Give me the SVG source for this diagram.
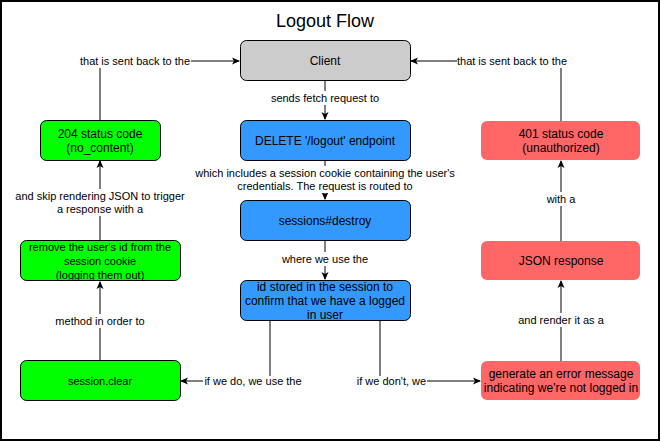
<svg xmlns="http://www.w3.org/2000/svg" width="661" height="442" viewBox="0 0 661 442">
<style>
text{font-family:"Liberation Sans",Arial,Helvetica,sans-serif;fill:#000;text-anchor:middle}
.n{font-size:12px}
.s{font-size:11px}
.t{font-size:18px}
.e{fill:none;stroke:#000;stroke-width:1}
.lb{fill:#fff}
.gray{fill:#CCCCCC;stroke:#000}
.blue{fill:#3399FF;stroke:#000}
.green{fill:#00FF00;stroke:#000}
.red{fill:#FF6666;stroke:none}
</style>
<defs>
<marker id="arr" viewBox="0 0 8 8" markerWidth="8" markerHeight="8" refX="7" refY="4" orient="auto" markerUnits="userSpaceOnUse">
<path d="M0,0.5 L8,4 L0,7.5 L2,4 Z" fill="#000"/>
</marker>
</defs>
<rect x="1" y="1" width="658" height="439" fill="#fff" stroke="#000" stroke-width="2"/>
<text class="t" x="325" y="27">Logout Flow</text>

<g id="connectors">
<path class="e" d="M100,121 V61 H239" marker-end="url(#arr)"/>
<rect class="lb" x="79" y="54" width="112" height="14"/>
<text class="s" x="135" y="65">that is sent back to the</text>

<path class="e" d="M561,121 V61 H411" marker-end="url(#arr)"/>
<rect class="lb" x="457" y="54" width="111" height="14"/>
<text class="s" x="512" y="65">that is sent back to the</text>

<path class="e" d="M325,80 V119" marker-end="url(#arr)"/>
<rect class="lb" x="272" y="91" width="106" height="14"/>
<text class="s" x="325" y="102">sends fetch request to</text>

<path class="e" d="M325,160 V199" marker-end="url(#arr)"/>
<rect class="lb" x="193" y="166" width="262" height="27"/>
<text class="s" x="325" y="177">which includes a session cookie containing the user's</text>
<text class="s" x="325" y="190">credentials. The request is routed to</text>

<path class="e" d="M325,240 V279" marker-end="url(#arr)"/>
<rect class="lb" x="283" y="252" width="84" height="14"/>
<text class="s" x="325" y="263">where we use the</text>

<path class="e" d="M270,320 V381 H181" marker-end="url(#arr)"/>
<rect class="lb" x="203" y="376" width="99" height="14"/>
<text class="s" x="253" y="385">if we do, we use the</text>

<path class="e" d="M380,320 V381 H480" marker-end="url(#arr)"/>
<rect class="lb" x="356" y="376" width="71" height="14"/>
<text class="s" x="391.5" y="385">if we don't, we</text>

<path class="e" d="M100,361 V282" marker-end="url(#arr)"/>
<rect class="lb" x="55" y="314" width="90" height="14"/>
<text class="s" x="100" y="325">method in order to</text>

<path class="e" d="M100,241 V161" marker-end="url(#arr)"/>
<rect class="lb" x="15" y="189" width="170" height="27"/>
<text class="s" x="100" y="200">and skip rendering JSON to trigger</text>
<text class="s" x="100" y="213">a response with a</text>

<path class="e" d="M561,361 V281" marker-end="url(#arr)"/>
<rect class="lb" x="517" y="313" width="88" height="14"/>
<text class="s" x="561" y="324">and render it as a</text>

<path class="e" d="M561,241 V161" marker-end="url(#arr)"/>
<rect class="lb" x="544" y="192" width="34" height="14"/>
<text class="s" x="561" y="203">with a</text>
</g>

<g id="client">
<rect class="gray" x="240.5" y="40.5" width="170" height="40" rx="6"/>
<text class="n" x="325" y="65">Client</text>
</g>
<g id="delete">
<rect class="blue" x="240.5" y="120.5" width="170" height="40" rx="6"/>
<text class="n" x="325" y="145">DELETE '/logout' endpoint</text>
</g>
<g id="sessions">
<rect class="blue" x="240.5" y="200.5" width="170" height="40" rx="6"/>
<text class="n" x="325" y="225">sessions#destroy</text>
</g>
<g id="idstored">
<rect class="blue" x="240.5" y="280.5" width="170" height="40" rx="6"/>
<text class="n" x="325" y="291">id stored in the session to</text>
<text class="n" x="325" y="305">confirm that we have a logged</text>
<text class="n" x="325" y="319">in user</text>
</g>
<g id="s204">
<rect class="green" x="40.5" y="120.5" width="120" height="40" rx="6"/>
<text class="n" x="100" y="138">204 status code</text>
<text class="n" x="100" y="152">(no_content)</text>
</g>
<g id="remove">
<rect class="green" x="20.5" y="240.5" width="160" height="40" rx="6"/>
<text class="s" x="100" y="251">remove the user's id from the</text>
<text class="s" x="100" y="265">session cookie</text>
<text class="s" x="100" y="279">(logging them out)</text>
</g>
<g id="clear">
<rect class="green" x="20.5" y="360.5" width="160" height="40" rx="6"/>
<text class="s" x="100" y="385">session.clear</text>
</g>
<g id="s401">
<rect class="red" x="481" y="121" width="159" height="39" rx="6"/>
<text class="n" x="561" y="138">401 status code</text>
<text class="n" x="561" y="152">(unauthorized)</text>
</g>
<g id="json">
<rect class="red" x="481" y="241" width="159" height="39" rx="6"/>
<text class="n" x="561" y="265">JSON response</text>
</g>
<g id="generate">
<rect class="red" x="481" y="361" width="159" height="39" rx="6"/>
<text class="n" x="561" y="378">generate an error message</text>
<text class="n" x="561" y="392">indicating we're not logged in</text>
</g>
</svg>
